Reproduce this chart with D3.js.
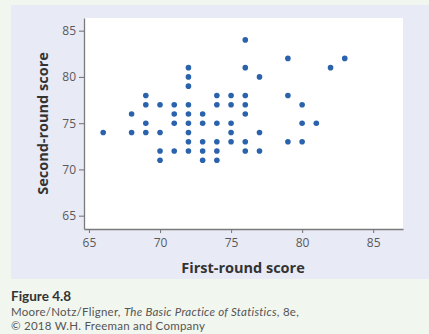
<!DOCTYPE html>
<html><head><meta charset="utf-8">
<script src="https://cdn.jsdelivr.net/npm/d3@7"></script>
<style>
html,body{margin:0;padding:0;background:#f1f6ef;}
svg{display:block;}
</style></head>
<body>
<svg id="chart" width="429" height="334"></svg>
<script>
// First-round score (x) and second-round score (y)
const firstRound = [
  66,
  68,68,
  69,69,69,69,
  70,70,70,70,
  71,71,71,71,
  72,72,72,72,72,72,72,72,72,
  73,73,73,73,73,
  74,74,74,74,74,74,
  75,75,75,75,75,
  76,76,76,76,76,76,76,
  77,77,77,
  79,79,79,
  80,80,80,
  81,82,83
];
const secondRound = [
  74,
  76,74,
  78,77,75,74,
  77,74,72,71,
  77,76,75,72,
  81,80,79,77,76,75,74,73,72,
  76,75,73,72,71,
  78,77,75,73,72,71,
  78,77,75,74,73,
  84,81,78,77,76,73,72,
  80,74,72,
  82,78,73,
  77,75,73,
  75,81,82
];
const xTicks = [65,70,75,80,85];
const yTicks = [65,70,75,80,85];
const xTitle = "First-round score";
const yTitle = "Second-round score";
const figLabel = "Figure 4.8";

const svg = d3.select("#chart");
const W = 429, H = 334;
const font = "'Open Sans', 'DejaVu Sans', sans-serif";
const capFont = "Lato, 'Open Sans', sans-serif";

svg.append("rect").attr("x",0).attr("y",0).attr("width",W).attr("height",H).attr("fill","#f1f6ef");
svg.append("rect").attr("x",11).attr("y",5).attr("width",W-11).attr("height",274).attr("fill","#e8eaf6");

const plot = {left:84, right:403, top:18, bottom:229};
svg.append("rect").attr("x",plot.left).attr("y",plot.top)
  .attr("width",plot.right-plot.left).attr("height",plot.bottom-plot.top).attr("fill","#ffffff");

const x = d3.scaleLinear().domain([64.65, 87.1]).range([plot.left, plot.right]);
const y = d3.scaleLinear().domain([63.56, 86.37]).range([plot.bottom, plot.top]);

const xAxis = svg.append("g").attr("transform",`translate(0,${plot.bottom})`)
  .call(d3.axisBottom(x).tickValues(xTicks).tickSize(4).tickPadding(5).tickSizeOuter(0));
const yAxis = svg.append("g").attr("transform",`translate(${plot.left},0)`)
  .call(d3.axisLeft(y).tickValues(yTicks).tickSize(5).tickPadding(3).tickSizeOuter(0));

[xAxis,yAxis].forEach(g=>{
  g.select(".domain").attr("stroke","#7a7a7a").attr("stroke-width",1.3);
  g.selectAll(".tick line").attr("stroke","#7a7a7a").attr("stroke-width",1.1);
  g.selectAll(".tick text").attr("fill","#5a5a5a").attr("font-size","12px").attr("font-family",font);
});

svg.append("g").selectAll("circle")
  .data(firstRound.map((v,i)=>[v,secondRound[i]]))
  .join("circle")
  .attr("cx",d=>x(d[0])).attr("cy",d=>y(d[1])).attr("r",2.8)
  .attr("fill","#2a62ac");

svg.append("text").attr("x",243).attr("y",273)
  .attr("text-anchor","middle").attr("font-family",font).attr("font-weight","bold")
  .attr("font-size","14.5px").attr("fill","#333").text(xTitle);

svg.append("text").attr("transform",`translate(48,${(plot.top+plot.bottom)/2}) rotate(-90)`)
  .attr("text-anchor","middle").attr("font-family",font).attr("font-weight","bold")
  .attr("font-size","14.5px").attr("fill","#333").text(yTitle);

svg.append("text").attr("x",11).attr("y",300.5).attr("font-family",capFont).attr("font-weight","bold")
  .attr("font-size","13.5px").attr("fill","#333").text(figLabel);

const cap = svg.append("text").attr("x",11).attr("y",316).attr("font-family",capFont)
  .attr("font-size","11.5px").attr("letter-spacing","0.25px").attr("fill","#555");
cap.append("tspan").text("Moore/Notz/Fligner, ");
cap.append("tspan").attr("font-style","italic").text("The Basic Practice of Statistics");
cap.append("tspan").text(", 8e,");
svg.append("text").attr("x",11).attr("y",330.2).attr("font-family",capFont)
  .attr("font-size","11.5px").attr("letter-spacing","0.25px").attr("fill","#555").text("© 2018 W.H. Freeman and Company");
</script>
</body></html>
